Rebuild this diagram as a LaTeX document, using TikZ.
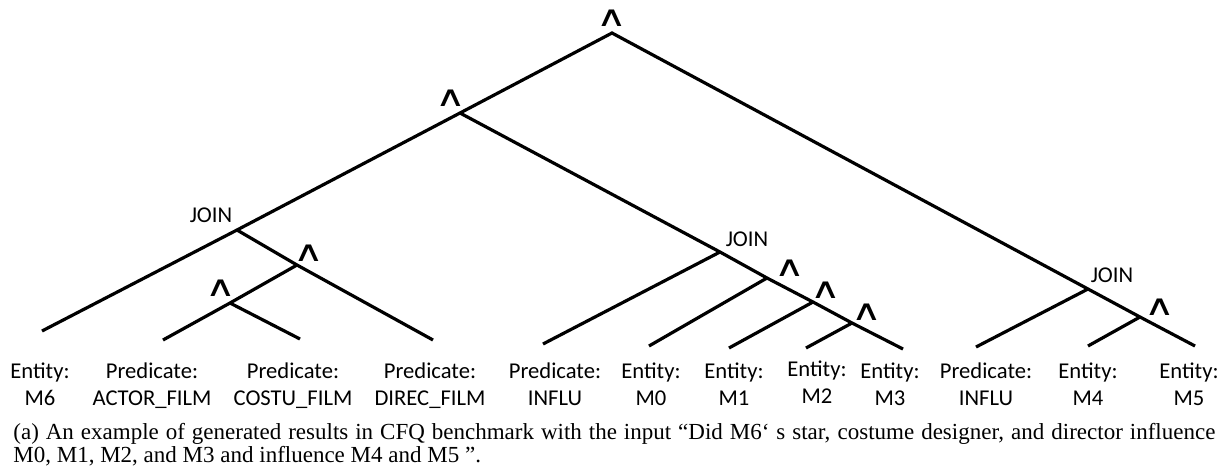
\documentclass[tikz,border=0pt]{standalone}
\usepackage{fontspec}
\usepackage{graphicx}
\setmainfont{Liberation Serif}
\newfontfamily\lblfont{Carlito}
\newfontfamily\symfont{DejaVu Sans}
\newcommand{\andop}{\scalebox{1.4}[0.95]{∧}}
\begin{document}
\begin{tikzpicture}[x=0.5pt,y=-0.5pt,
  edge/.style={line width=1.6pt, line join=miter},
  lbl/.style={font=\lblfont\fontsize{11.3}{13.5}\selectfont, inner sep=0pt, anchor=base},
  oplbl/.style={font=\symfont\fontsize{15}{15}\selectfont, inner sep=0pt},
  joinlbl/.style={font=\lblfont\fontsize{11.3}{13.5}\selectfont, inner sep=0pt, anchor=base}]
\useasboundingbox (0,0) rectangle (1227,472);
% tree points
\coordinate (top) at (612,33);
\coordinate (a1) at (460,113);
\coordinate (j1) at (237,230);
\coordinate (a2) at (297,265);
\coordinate (a3) at (230,303);
\coordinate (j2) at (720,252);
\coordinate (a4) at (767,278);
\coordinate (a5) at (813,302);
\coordinate (a6) at (852,323);
\coordinate (j3) at (1088,289);
\coordinate (a7) at (1140,317);
% leaves
\coordinate (lm6) at (42,331);
\coordinate (lactor) at (163,340);
\coordinate (lcostu) at (300,339);
\coordinate (ldirec) at (433,340);
\coordinate (linfluA) at (543,344);
\coordinate (lm0) at (649,346);
\coordinate (lm1) at (729,348);
\coordinate (lm2) at (806,348);
\coordinate (lm3) at (903,349);
\coordinate (linfluB) at (976,347);
\coordinate (lm4) at (1088,346);
\coordinate (lm5) at (1195,346);
% edges
\draw[edge] (lm6) -- (j1) -- (a1) -- (top) -- (j3) -- (a7) -- (lm5);
\draw[edge] (a1) -- (j2) -- (a4) -- (a5) -- (a6) -- (lm3);
\draw[edge] (j1) -- (a2) -- (ldirec);
\draw[edge] (a2) -- (a3) -- (lactor);
\draw[edge] (a3) -- (lcostu);
\draw[edge] (j2) -- (linfluA);
\draw[edge] (a4) -- (lm0);
\draw[edge] (a5) -- (lm1);
\draw[edge] (a6) -- (lm2);
\draw[edge] (j3) -- (linfluB);
\draw[edge] (a7) -- (lm4);
% operator labels
\node[oplbl] (optop) at (612,18) {\andop};
\node[oplbl] (opa1) at (451,98) {\andop};
\node[oplbl] (opa2) at (309,253) {\andop};
\node[oplbl] (opa3) at (221,288) {\andop};
\node[oplbl] (opa4) at (790,268) {\andop};
\node[oplbl] (opa5) at (826,290) {\andop};
\node[oplbl] (opa6) at (867,312) {\andop};
\node[oplbl] (opa7) at (1160,307) {\andop};
\node[joinlbl] (jl1) at (211,222) {JOIN};
\node[joinlbl] (jl2) at (747,246) {JOIN};
\node[joinlbl] (jl3) at (1112,282) {JOIN};
% leaf labels
\node[lbl] (tm6) at (40,378) {\begin{tabular}[t]{@{}c@{}}Entity:\\M6\end{tabular}};
\node[lbl] (tactor) at (152,378) {\begin{tabular}[t]{@{}c@{}}Predicate:\\ACTOR\_FILM\end{tabular}};
\node[lbl] (tcostu) at (293,378) {\begin{tabular}[t]{@{}c@{}}Predicate:\\COSTU\_FILM\end{tabular}};
\node[lbl] (tdirec) at (430,378) {\begin{tabular}[t]{@{}c@{}}Predicate:\\DIREC\_FILM\end{tabular}};
\node[lbl] (tinfluA) at (555,378) {\begin{tabular}[t]{@{}c@{}}Predicate:\\INFLU\end{tabular}};
\node[lbl] (tm0) at (651,378) {\begin{tabular}[t]{@{}c@{}}Entity:\\M0\end{tabular}};
\node[lbl] (tm1) at (734,378) {\begin{tabular}[t]{@{}c@{}}Entity:\\M1\end{tabular}};
\node[lbl] (tm2) at (817,376) {\begin{tabular}[t]{@{}c@{}}Entity:\\M2\end{tabular}};
\node[lbl] (tm3) at (890,378) {\begin{tabular}[t]{@{}c@{}}Entity:\\M3\end{tabular}};
\node[lbl] (tinfluB) at (986,378) {\begin{tabular}[t]{@{}c@{}}Predicate:\\INFLU\end{tabular}};
\node[lbl] (tm4) at (1088,378) {\begin{tabular}[t]{@{}c@{}}Entity:\\M4\end{tabular}};
\node[lbl] (tm5) at (1189,378) {\begin{tabular}[t]{@{}c@{}}Entity:\\M5\end{tabular}};
% caption
\node[anchor=base west, inner sep=0pt, font=\fontsize{11.5}{10.5}\selectfont] (cap) at (13,439)
  {\parbox[t]{601pt}{\hyphenpenalty=10000 (a) An example of generated results in CFQ benchmark with the input “Did M6‘ s star, costume designer, and director influence\linebreak M0, M1, M2, and M3 and influence M4 and M5 ”.}};
\end{tikzpicture}
\end{document}
